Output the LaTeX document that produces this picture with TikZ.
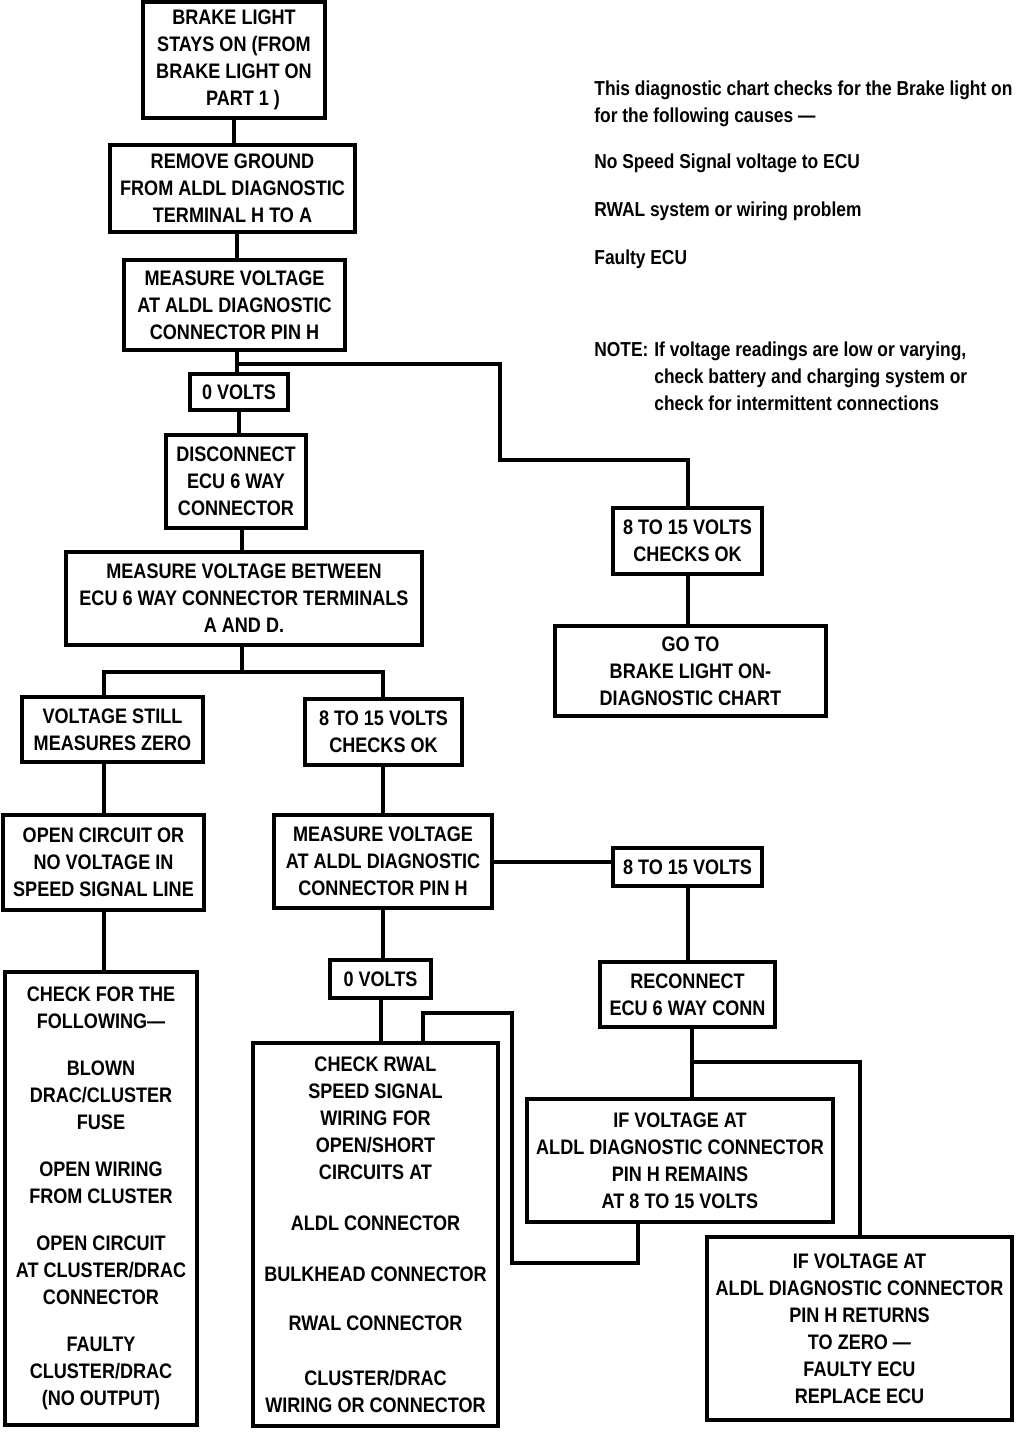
\documentclass[tikz,border=0pt]{standalone}
\usepackage{fontspec}
\setmainfont[FakeStretch=0.86]{Liberation Sans}
\begin{document}
\begin{tikzpicture}[x=0.5pt,y=-0.5pt,
  every node/.style={font=\fontsize{10.5}{13.5}\selectfont\bfseries},
  box/.style 2 args={draw=black, line width=2pt, align=center, inner sep=1pt,
    minimum width=#1*0.5pt, minimum height=#2*0.5pt},
  conn/.style={draw=black, line width=2pt, line join=miter},
  note/.style={anchor=base west, inner sep=0pt, font=\fontsize{10.1}{13.5}\selectfont\bfseries}]
\useasboundingbox (0,0) rectangle (1024,1432);
% boxes
\node[box={182}{116}] (A) at (234,60) {BRAKE LIGHT\\STAYS ON (FROM\\BRAKE LIGHT ON\\\hspace*{9pt}PART 1 )};
\node[box={245}{87}] (B) at (232.5,188.5) {REMOVE GROUND\\FROM ALDL DIAGNOSTIC\\TERMINAL H TO A};
\node[box={221}{90}] (C) at (234.5,305) {MEASURE VOLTAGE\\AT ALDL DIAGNOSTIC\\CONNECTOR PIN H};
\node[box={98}{36}] (D) at (239,392) {0 VOLTS};
\node[box={140}{93}] (E) at (236,481.5) {DISCONNECT\\ECU 6 WAY\\CONNECTOR};
\node[box={356}{93}] (F) at (244,598.5) {MEASURE VOLTAGE BETWEEN\\ECU 6 WAY CONNECTOR TERMINALS\\A AND D.};
\node[box={181}{65}] (G) at (112.5,729.5) {VOLTAGE STILL\\MEASURES ZERO};
\node[box={157}{66}] (H) at (383.5,732) {8 TO 15 VOLTS\\CHECKS OK};
\node[box={201}{95}] (I) at (103.5,862.5) {OPEN CIRCUIT OR\\NO VOLTAGE IN\\SPEED SIGNAL LINE};
\node[box={218}{93}] (J) at (383,861.5) {MEASURE VOLTAGE\\AT ALDL DIAGNOSTIC\\CONNECTOR PIN H};
\node[box={149}{38}] (K) at (687.5,867) {8 TO 15 VOLTS};
\node[box={101}{38}] (L) at (380.5,979) {0 VOLTS};
\node[box={245}{383}] (M) at (375.5,1234.5) {CHECK RWAL\\SPEED SIGNAL\\WIRING FOR\\OPEN/SHORT\\CIRCUITS AT\\[12pt]ALDL CONNECTOR\\[12pt]BULKHEAD CONNECTOR\\[11pt]RWAL CONNECTOR\\[14pt]CLUSTER/DRAC\\WIRING OR CONNECTOR};
\node[box={192}{453}] (N) at (101,1198.5) {CHECK FOR THE\\FOLLOWING—\\[10pt]BLOWN\\DRAC/CLUSTER\\FUSE\\[10pt]OPEN WIRING\\FROM CLUSTER\\[10pt]OPEN CIRCUIT\\AT CLUSTER/DRAC\\CONNECTOR\\[10pt]FAULTY\\CLUSTER/DRAC\\(NO OUTPUT)};
\node[box={271}{90}] (O) at (690.5,671) {GO TO\\BRAKE LIGHT ON-\hspace*{30pt}\\DIAGNOSTIC CHART};
\node[box={149}{66}] (P) at (687.5,541) {8 TO 15 VOLTS\\CHECKS OK};
\node[box={175}{65}] (Q) at (687.5,994.5) {RECONNECT\\ECU 6 WAY CONN};
\node[box={306}{123}] (R) at (680,1160.5) {IF VOLTAGE AT\\ALDL DIAGNOSTIC CONNECTOR\\PIN H REMAINS\\AT 8 TO 15 VOLTS};
\node[box={305}{183}] (S) at (859.5,1328.5) {IF VOLTAGE AT\\ALDL DIAGNOSTIC CONNECTOR\\PIN H RETURNS\\TO ZERO —\\FAULTY ECU\\REPLACE ECU};
% notes
\node[note] (t1) at (594,95) {This diagnostic chart checks for the Brake light on};
\node[note] (t2) at (594,122) {for the following causes —};
\node[note] (t3) at (594,168) {No Speed Signal voltage to ECU};
\node[note] (t4) at (594,216) {RWAL system or wiring problem};
\node[note] (t5) at (594,264) {Faulty ECU};
\node[note] (t6) at (594,356) {\makebox[30pt][l]{NOTE:}If voltage readings are low or varying,};
\node[note] (t7) at (654,383) {check battery and charging system or};
\node[note] (t8) at (654,410) {check for intermittent connections};
% helper coordinates
\coordinate (cb) at (237,364);
\coordinate (cr) at (500,460);
\coordinate (fb) at (242,672);
\coordinate (qb) at (692,1062);
\coordinate (rl1) at (512,1263);
\coordinate (rl2) at (423,1013);
% connectors
\draw[conn] (A.south) -- (A.south |- B.north);
\draw[conn] (B.south -| cb) -- (cb |- C.north);
\draw[conn] (C.south -| cb) -- (cb |- D.north);
\draw[conn] (cb) -| (cr) -| (P.north);
\draw[conn] (D.south) -- (D.south |- E.north);
\draw[conn] (E.south -| fb) -- (fb |- F.north);
\draw[conn] (F.south -| fb) -- (fb);
\draw[conn] (G.north -| I.north) |- (fb) -| (H.north -| J.north);
\draw[conn] (G.south -| I.north) -- (I.north);
\draw[conn] (I.south) -- (I.south |- N.north);
\draw[conn] (H.south -| J.north) -- (J.north);
\draw[conn] (J.south) -- (J.south |- L.north);
\draw[conn] (L.south) -- (L.south |- M.north);
\draw[conn] (J.east) -- (J.east -| K.west);
\draw[conn] (K.south) -- (K.south |- Q.north);
\draw[conn] (P.south) -- (P.south |- O.north);
\draw[conn] (Q.south -| qb) -- (qb |- R.north);
\draw[conn] (qb) -| (S.north);
\draw[conn] ([xshift=-21pt]R.south) |- (rl1) |- (rl2) -- (M.north -| rl2);
\end{tikzpicture}
\end{document}
